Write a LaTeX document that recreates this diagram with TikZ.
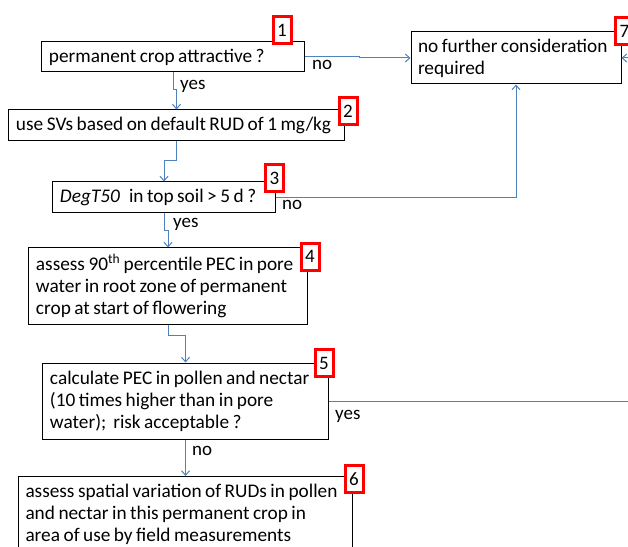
\documentclass[tikz,border=0pt]{standalone}
\usepackage{fontspec}
\setmainfont{Carlito}
\usetikzlibrary{arrows.meta}
\definecolor{connblue}{RGB}{79,129,189}
\definecolor{lblred}{RGB}{255,0,0}
\newcommand\tightspaces{\spaceskip=3.5bp plus 1bp minus 0.5bp\relax}
\tikzset{
  box/.style={draw=black, line width=1bp, fill=white, inner xsep=7bp, inner ysep=2bp, align=left,
    font=\fontsize{19.3bp}{22bp}\selectfont, execute at begin node=\tightspaces},
  numbox/.style={draw=lblred, line width=3bp, fill=white, minimum width=18bp, minimum height=27bp,
    inner sep=0pt, font=\fontsize{19bp}{22bp}\selectfont},
  link/.style={draw=connblue, line width=1bp, -{Straight Barb[length=4.5bp,width=8bp]}},
  lbl/.style={inner sep=0pt, anchor=base west, font=\fontsize{19bp}{22bp}\selectfont},
}
\begin{document}
\begin{tikzpicture}[x=1bp,y=-1bp]
\useasboundingbox (0,0) rectangle (628,547);
\clip (0,0) rectangle (628,547);
% boxes
\node[box, minimum width=262bp, minimum height=30bp, text width=248bp] (b1) at (173,57) {\mbox{permanent crop attractive ?}};
\node[box, minimum width=335bp, minimum height=31bp, text width=321bp] (b2) at (176.5,125.5) {\mbox{use SVs based on default RUD of 1 mg/kg}};
\node[box, minimum width=222bp, minimum height=31bp, text width=208bp] (b3) at (164,197.5) {\mbox{\textit{DegT50}\hspace{9bp}in top soil > 5 d ?}};
\node[box, minimum width=278bp, minimum height=76bp, text width=264bp] (b4) at (168,286) {\mbox{assess 90\textsuperscript{th} percentile PEC in pore}\\\mbox{water in root zone of permanent}\\\mbox{crop at start of flowering}};
\node[box, minimum width=285bp, minimum height=76bp, text width=271bp] (b5) at (185.5,401) {\mbox{calculate PEC in pollen and nectar}\\\mbox{(10 times higher than in pore}\\\mbox{water);\hspace{7bp}risk acceptable ?}};
\node[box, minimum width=210bp, minimum height=52bp, text width=196bp] (b7) at (516,58) {\mbox{no further consideration}\\\mbox{required}};
\node[box, draw=none, fill=none, anchor=north west, text width=320bp, inner ysep=8bp] (b6) at (18,476) {\mbox{assess spatial variation of RUDs in pollen}\\\mbox{and nectar in this permanent crop in}\\\mbox{area of use by field measurements}};
\draw[line width=1bp] (b6.north west) rectangle ++(334,120);
% connectors
\draw[link] (b1.south) -- ++(0,17) -| (b2.north);
\draw[link] (b2.south) -- ++(0,19) -| (b3.north);
\draw[link] (b3.south) -- ++(0,17) -| (b4.north);
\draw[link] (b4.south) -- ++(0,11) -| (b5.north);
\draw[link] (b5.south) -- (b5.south |- b6.north);
\draw[link] (b1.east) -- ++(55,0) |- (b7.west);
\draw[link] (b3.east) -| (b7.south);
\coordinate (far) at (660,401);
\draw[link] (b5.east) -- (b5.east -| far) |- (b7.east);
% connector labels
\node[lbl] (n1) at (312,70) {no};
\node[lbl] (y1) at (180,90) {yes};
\node[lbl] (n3) at (282,210) {no};
\node[lbl] (y3) at (173,228) {yes};
\node[lbl] (y5) at (335,419) {yes};
\node[lbl] (n5) at (192,455) {no};
% step numbers
\node[numbox] (k1) at (282,30.5) {1};
\node[numbox] (k2) at (348,111.5) {2};
\node[numbox] (k3) at (274.5,178) {3};
\node[numbox] (k4) at (310,256.5) {4};
\node[numbox] (k5) at (324,363) {5};
\node[numbox] (k6) at (354,479) {6};
\node[numbox] (k7) at (624.5,31) {7};
\end{tikzpicture}
\end{document}
